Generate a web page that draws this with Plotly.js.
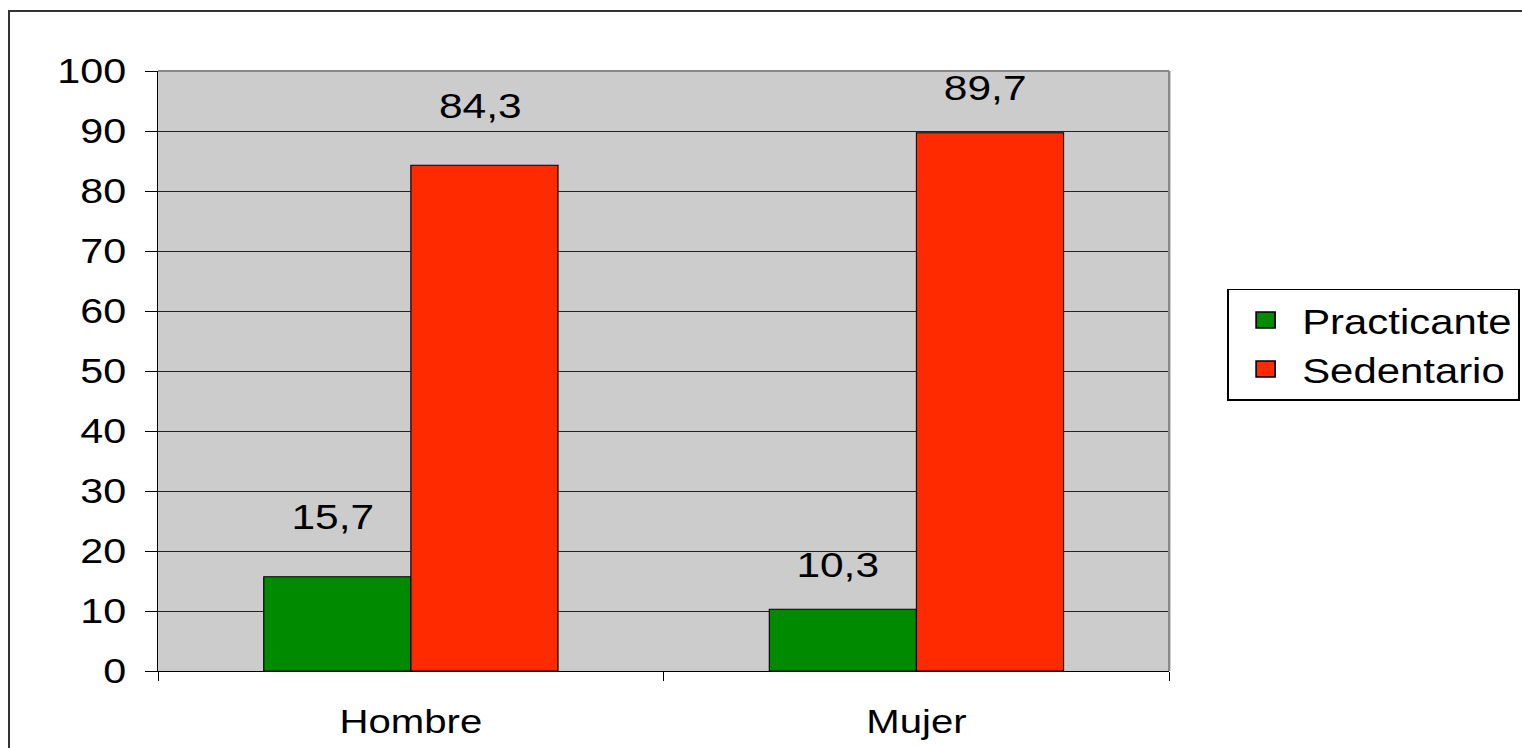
<!DOCTYPE html>
<html>
<head>
<meta charset="utf-8">
<script src="https://cdn.plot.ly/plotly-3.0.1.min.js"></script>
<style>
  html, body { margin: 0; padding: 0; width: 1522px; height: 748px; overflow: hidden; background: #ffffff; }
  #wrap { position: absolute; left: 0; top: 0; width: 1290px; height: 748px; transform: scale(1.17984, 1); transform-origin: 0 0; }
  #frame { position: absolute; left: 8px; top: 10px; width: 1700px; height: 1000px; border: 2px solid #333333; pointer-events: none; }
</style>
</head>
<body>
<div id="wrap"><div id="chart"></div></div>
<div id="frame"></div>
<script>
// ---- data ----
const categories = ['Hombre', 'Mujer'];
const seriesNames = ['Practicante', 'Sedentario'];
const practicante = [15.7, 10.3];
const sedentario = [84.3, 89.7];
const yTickValues = [0, 10, 20, 30, 40, 50, 60, 70, 80, 90, 100];

// ---- style ----
const FONT = '"Liberation Sans", Arial, sans-serif';
const GREEN = '#008a00';
const RED = '#ff2a00';
const BARGAP = 0.418;
const labelLift = { Hombre: 60, Mujer: 45 };

const fmt = v => v.toFixed(1).replace('.', ',');

const traces = [
  {
    type: 'bar', name: seriesNames[0], x: categories, y: practicante,
    marker: { color: GREEN, line: { color: '#000000', width: 1 } },
    showlegend: false, hoverinfo: 'x+y'
  },
  {
    type: 'bar', name: seriesNames[1], x: categories, y: sedentario,
    marker: { color: RED, line: { color: '#000000', width: 1 } },
    showlegend: false, hoverinfo: 'x+y'
  },
  // legend entries
  {
    type: 'scatter', mode: 'markers', name: seriesNames[0], x: [null], y: [null],
    marker: { symbol: 'square', size: 16, color: GREEN, line: { color: '#000000', width: 1.5 } }
  },
  {
    type: 'scatter', mode: 'markers', name: seriesNames[1], x: [null], y: [null],
    marker: { symbol: 'square', size: 16, color: RED, line: { color: '#000000', width: 1.5 } }
  }
];

const off = (1 - BARGAP) / 4;
const annotations = [];
[practicante, sedentario].forEach((vals, s) => {
  vals.forEach((v, i) => {
    annotations.push({
      xref: 'x', yref: 'y', x: i + (s === 0 ? -off : off), y: v,
      text: fmt(v), showarrow: false, yanchor: 'middle', xanchor: 'center',
      yshift: labelLift[categories[i]], xshift: -4,
      font: { family: FONT, size: 36, color: '#000000' }
    });
  });
});

const layout = {
  width: 1290, height: 748,
  margin: { l: 134, r: 299, t: 71, b: 77, autoexpand: false },
  paper_bgcolor: 'rgba(0,0,0,0)',
  plot_bgcolor: '#cccccc',
  barmode: 'group', bargap: BARGAP, bargroupgap: 0,
  font: { family: FONT, size: 34, color: '#000000' },
  xaxis: {
    type: 'category', tickson: 'boundaries', ticks: 'outside', ticklen: 9, tickwidth: 1,
    tickcolor: '#000000', showline: true, linecolor: '#000000', linewidth: 1,
    showgrid: false, ticklabelstandoff: 20, automargin: false,
    tickfont: { family: FONT, size: 34, color: '#000000' },
    range: [-0.5, 1.5]
  },
  yaxis: {
    range: [0, 100], tickvals: yTickValues, ticktext: yTickValues.map(String),
    ticks: 'outside', ticklen: 10, tickwidth: 1, tickcolor: '#000000',
    showline: true, linecolor: '#000000', linewidth: 1,
    showgrid: true, gridcolor: '#222222', gridwidth: 1, zeroline: false,
    ticklabelstandoff: 9, automargin: false,
    tickfont: { family: FONT, size: 35, color: '#000000' }
  },
  legend: {
    x: 1.0574, xanchor: 'left', y: 0.637, yanchor: 'top',
    bgcolor: '#ffffff', bordercolor: '#000000', borderwidth: 1.5,
    itemsizing: 'trace', itemwidth: 52,
    font: { family: FONT, size: 35.5, color: '#000000' }
  },
  shapes: [
    { type: 'line', xref: 'paper', yref: 'paper', x0: 0, x1: 1, y0: 1, y1: 1, line: { color: '#888888', width: 2 }, layer: 'above' },
    { type: 'line', xref: 'paper', yref: 'paper', x0: 1, x1: 1, y0: 0, y1: 1, line: { color: '#888888', width: 2 }, layer: 'above' }
  ],
  annotations: annotations,
  showlegend: true
};

Plotly.newPlot('chart', traces, layout, { displayModeBar: false, staticPlot: false, responsive: false });
</script>
</body>
</html>
